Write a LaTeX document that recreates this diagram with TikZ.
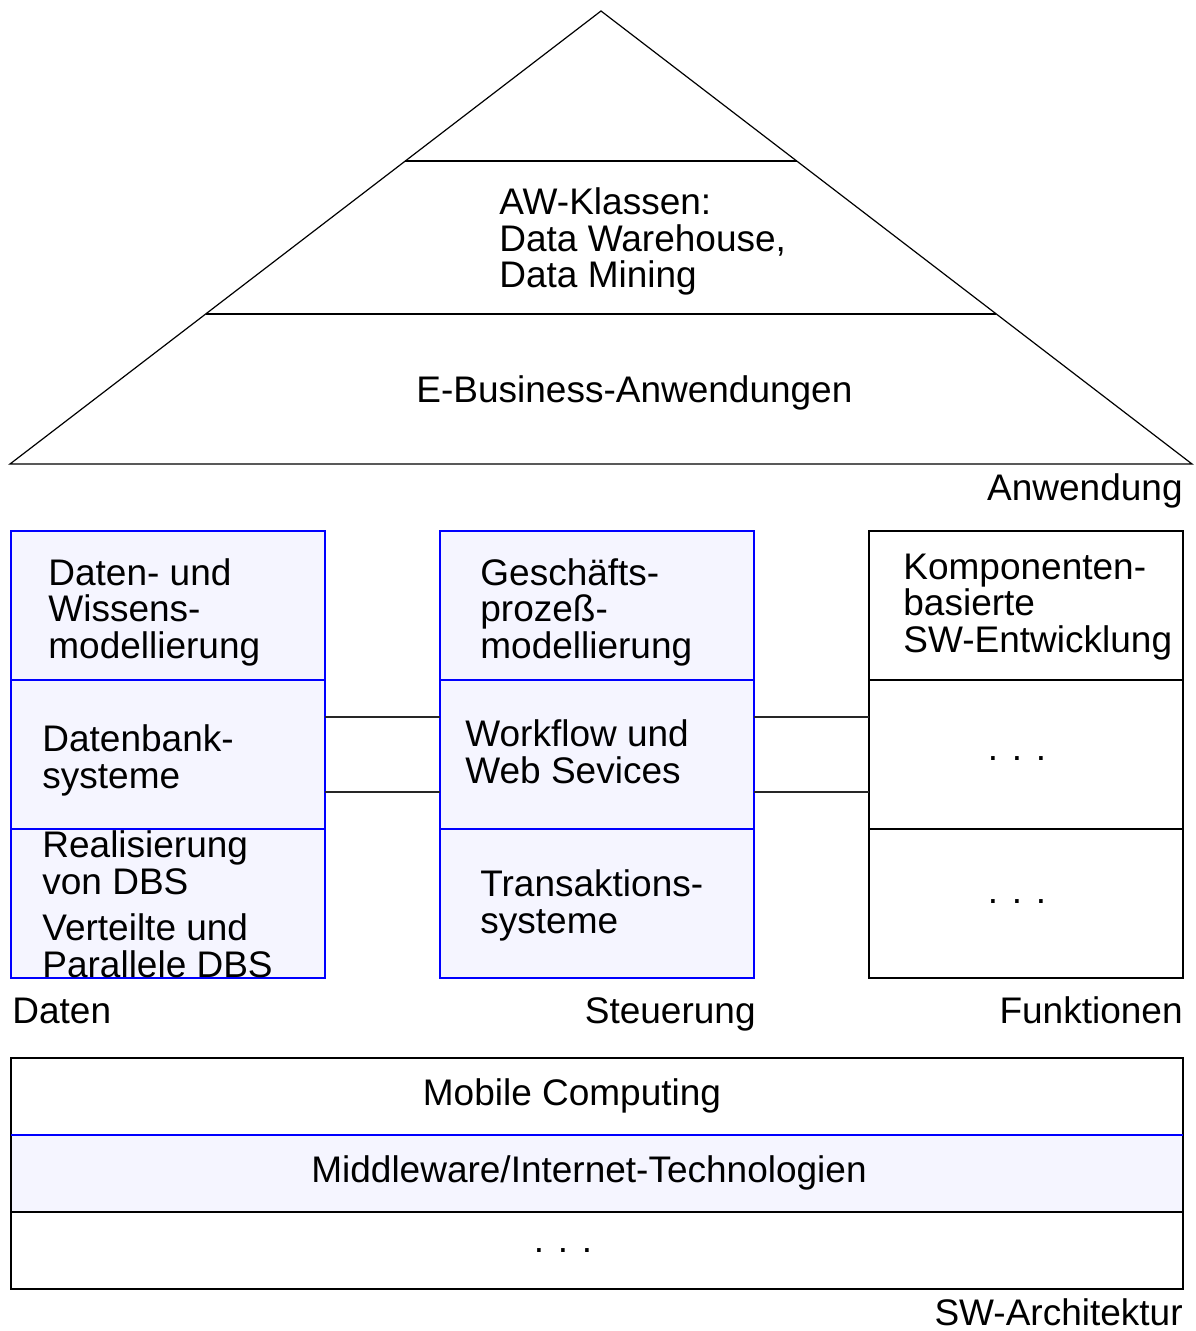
\documentclass[tikz,border=0pt]{standalone}
\usepackage{fontspec}
\setmainfont{Liberation Sans}
\usetikzlibrary{positioning}
\definecolor{lavender}{RGB}{245,245,255}
\tikzset{
    cell/.style={
           rectangle,
           draw=black, line width=0.8pt,
           minimum width=157pt,
           minimum height=74.5pt,
           inner sep=0pt, outer sep=0pt,
           },
    bluecell/.style={cell, draw=blue, fill=lavender, line width=0.6pt},
    layer/.style={cell, minimum width=586pt, minimum height=38.5pt},
    txt/.style={
           anchor=base west, align=left, inner sep=0pt,
           font=\fontsize{18.5}{18.25}\selectfont,
           },
    link/.style={draw=black!85, line width=0.8pt},
}

\begin{document}
\begin{tikzpicture}[x=0.5pt,y=-0.5pt]
   \useasboundingbox (0,0) rectangle (1195,1331);
   % pyramid
   \draw[line width=0.6pt] (10,464) -- (601,11) -- (1192,464) -- cycle;
   \draw[line width=0.8pt] (405,161) -- (797,161);
   \draw[line width=0.8pt] (206,314) -- (996,314);
   \node[txt] (awk) at (499,288) {AW-Klassen:\\Data Warehouse,\\Data Mining};
   \node[txt] (eba) at (416,402) {E-Business-Anwendungen};
   \node[txt, anchor=base east] (anw) at (1183,500) {Anwendung};

   % three columns
   \node[bluecell] (dwm) at (168,605.5) {};
   \node[bluecell] (dbs) [below=0pt of dwm] {};
   \node[bluecell] (rdb) [below=0pt of dbs] {};
   \node[bluecell] (gpm) [right=57.5pt of dwm] {};
   \node[bluecell] (wfs) [below=0pt of gpm] {};
   \node[bluecell] (tas) [below=0pt of wfs] {};
   \node[cell] (kbs) [right=57.5pt of gpm] {};
   \node[cell] (fk1) [below=0pt of kbs] {};
   \node[cell] (fk2) [below=0pt of fk1] {};

   \node[txt] (dwm_t) at (48,658) {Daten- und\\Wissens-\\modellierung};
   \node[txt] (dbs_t) at (42,788) {Datenbank-\\systeme};
   \node[txt] (rdb_t) at (42,894) {Realisierung\\von DBS};
   \node[txt] (vpd_t) at (42,977) {Verteilte und\\Parallele DBS};
   \node[txt] (gpm_t) at (480,658) {Geschäfts-\\prozeß-\\modellierung};
   \node[txt] (wfs_t) at (465,783) {Workflow und\\Web Sevices};
   \node[txt] (tas_t) at (480,933) {Transaktions-\\systeme};
   \node[txt] (kbs_t) at (903,652) {Komponenten-\\basierte\\SW-Entwicklung};
   \node[txt, anchor=base] (fk1_t) at (1017,760) {. . .};
   \node[txt, anchor=base] (fk2_t) at (1017,903) {. . .};

   \draw[link] ([yshift=18.75pt]dbs.east) -- ([yshift=18.75pt]wfs.west);
   \draw[link] ([yshift=-18.75pt]dbs.east) -- ([yshift=-18.75pt]wfs.west);
   \draw[link] ([yshift=18.75pt]wfs.east) -- ([yshift=18.75pt]fk1.west);
   \draw[link] ([yshift=-18.75pt]wfs.east) -- ([yshift=-18.75pt]fk1.west);

   \node[txt] (dat) at (12,1023) {Daten};
   \node[txt, anchor=base east] (ste) at (756,1023) {Steuerung};
   \node[txt, anchor=base east] (fkt) at (1183,1023) {Funktionen};

   % layers
   \node[layer] (mob) at (597,1096.5) {};
   \node[layer, fill=lavender] (mid) [below=0pt of mob] {};
   \node[layer] (etc) [below=0pt of mid] {};
   \draw[blue, line width=0.6pt] (mid.north west) -- (mid.north east);
   \node[txt, anchor=base] (mob_t) at (572,1105) {Mobile Computing};
   \node[txt, anchor=base] (mid_t) at (589,1182) {Middleware/Internet-Technologien};
   \node[txt, anchor=base] (etc_t) at (563,1252) {. . .};
   \node[txt, anchor=base east] (swa) at (1183,1325) {SW-Architektur};
\end{tikzpicture}
\end{document}
